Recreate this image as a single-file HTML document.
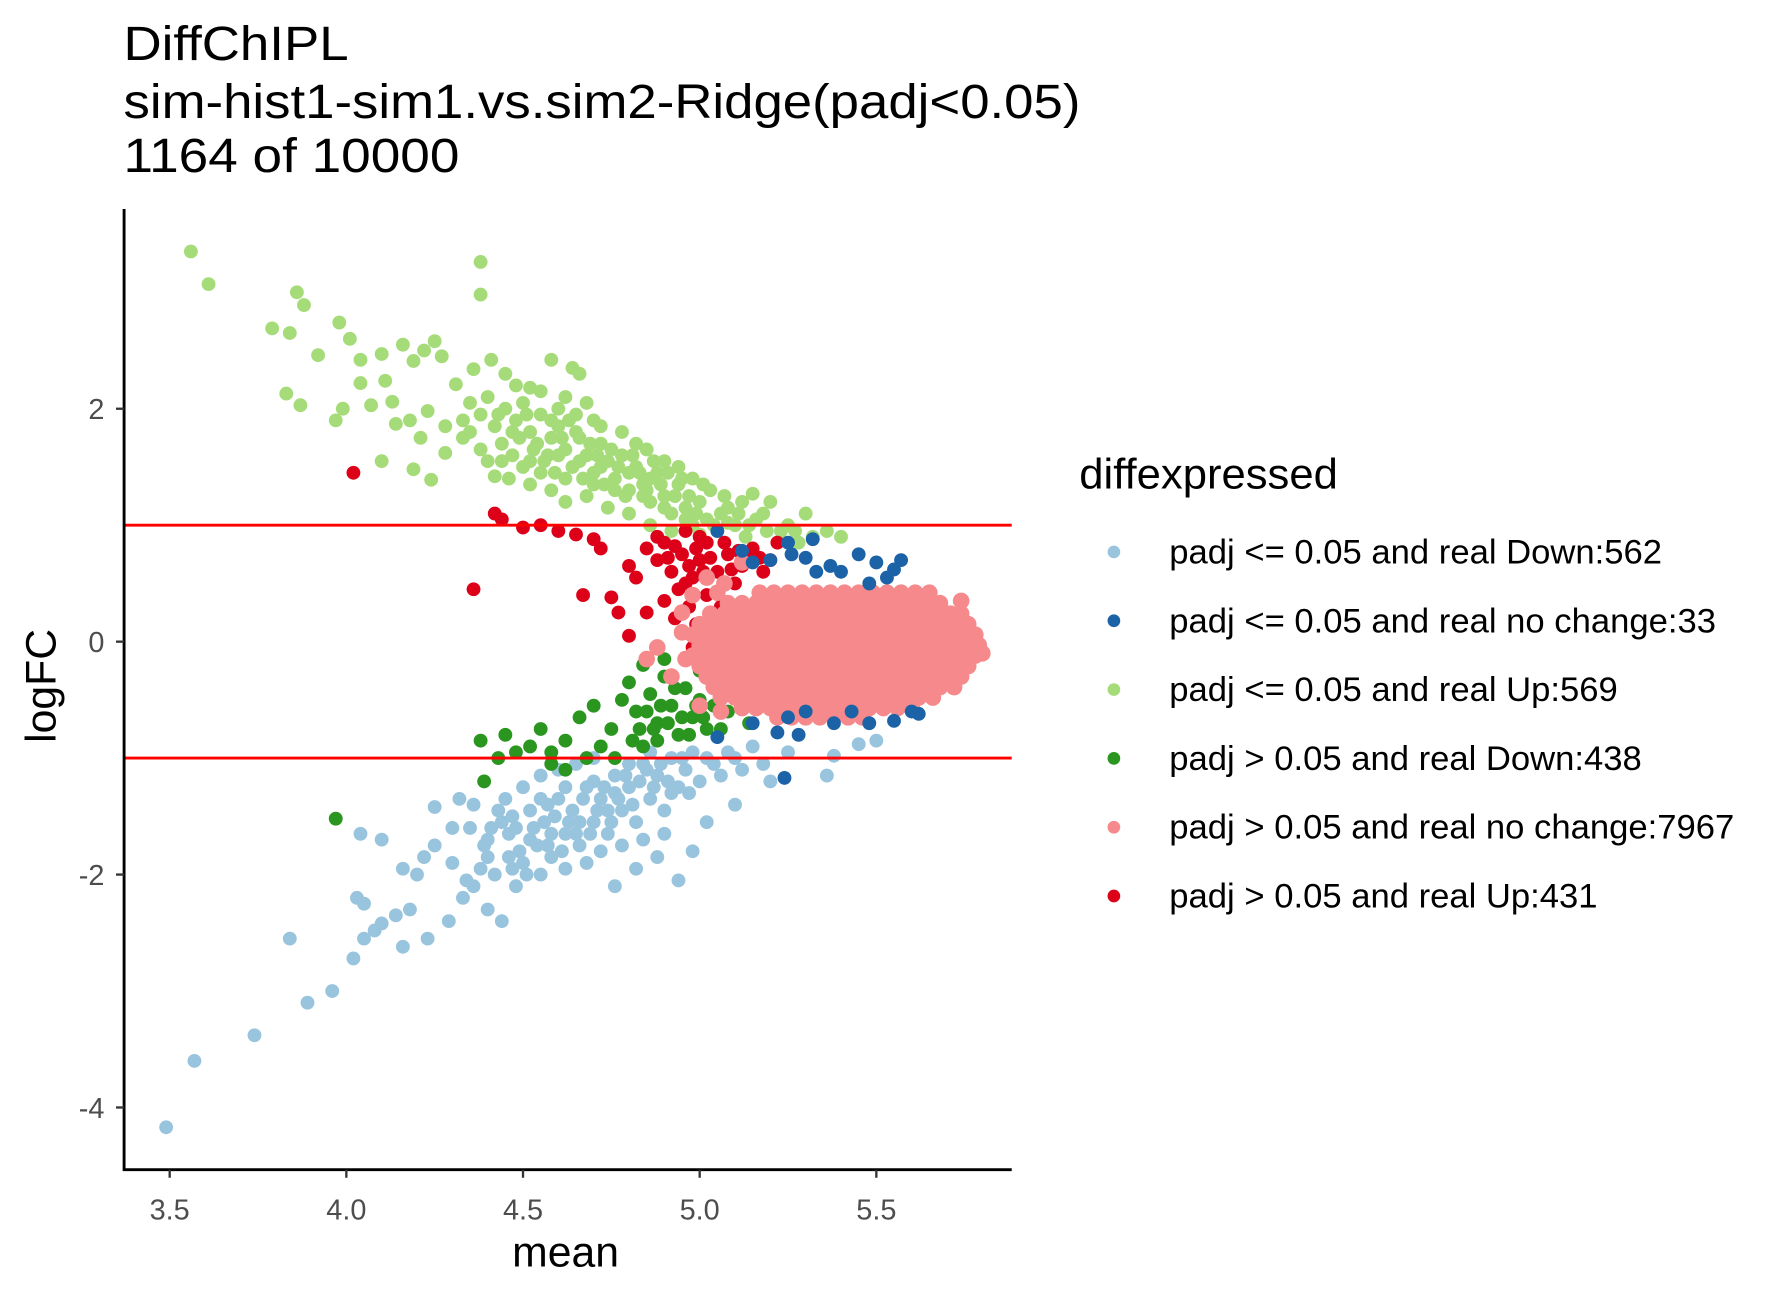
<!DOCTYPE html>
<html><head><meta charset="utf-8"><style>
html,body{margin:0;padding:0;background:#fff;}
svg{display:block;font-family:"Liberation Sans",Arial,sans-serif;}
</style></head><body>
<svg id="chart" width="1788" height="1299" viewBox="0 0 1549 1125" preserveAspectRatio="none" xmlns="http://www.w3.org/2000/svg">
<rect width="1549" height="1125" fill="#fff"/>
<g font-size="42" fill="#000">
<text x="107" y="52" textLength="195" lengthAdjust="spacingAndGlyphs">DiffChIPL</text>
<text x="107" y="102" textLength="829" lengthAdjust="spacingAndGlyphs">sim-hist1-sim1.vs.sim2-Ridge(padj&lt;0.05)</text>
<text x="107" y="149" textLength="291" lengthAdjust="spacingAndGlyphs">1164 of 10000</text>
</g>
<g id="points"></g>
<g id="axes"></g>
<g id="legend">
<text x="935" y="423" font-size="37" fill="#000" textLength="224" lengthAdjust="spacingAndGlyphs">diffexpressed</text>
</g>
</svg>
<script>
const xTicks = [3.5, 4.0, 4.5, 5.0, 5.5];
const xTickLabels = ["3.5", "4.0", "4.5", "5.0", "5.5"];
const yTicks = [2, 0, -2, -4];
const yTickLabels = ["2", "0", "-2", "-4"];
const hLines = [1, -1];
const categories = ["padj <= 0.05 and real Down:562","padj <= 0.05 and real no change:33","padj <= 0.05 and real Up:569","padj > 0.05 and real Down:438","padj > 0.05 and real no change:7967","padj > 0.05 and real Up:431"];
const colors = ["#99c4de","#1c62a7","#a5dc79","#2a951f","#f5898b","#dd0019"];

const lightBlue = [[3.49,-4.17],[3.57,-3.6],[3.74,-3.38],[3.89,-3.1],[3.96,-3.0],[3.84,-2.55],[4.02,-2.72],[4.05,-2.55],[4.03,-2.2],[4.05,-2.25],[4.08,-2.48],[4.1,-2.42],[4.14,-2.35],[4.18,-2.3],[4.16,-2.62],[4.23,-2.55],[4.2,-2.0],[4.22,-1.85],[4.04,-1.65],[4.1,-1.7],[4.16,-1.95],[4.25,-1.75],[4.25,-1.42],[4.29,-2.4],[4.33,-2.2],[4.36,-2.1],[4.4,-2.3],[4.44,-2.4],[4.3,-1.6],[4.32,-1.35],[4.36,-1.4],[4.94,-2.05],[4.82,-1.95],[4.76,-2.1],[4.88,-1.85],[4.98,-1.8],[5.02,-1.55],[5.1,-1.4],[5.2,-1.2],[5.18,-1.05],[5.25,-0.95],[5.36,-1.15],[5.38,-0.98],[5.45,-0.88],[5.5,-0.85],
[4.38,-1.95],[4.4,-1.7],[4.42,-2.0],[4.44,-1.55],[4.46,-1.85],[4.48,-1.6],[4.5,-1.9],[4.52,-1.45],[4.54,-1.75],[4.56,-1.55],[4.58,-1.85],[4.6,-1.35],[4.62,-1.65],[4.64,-1.45],[4.66,-1.75],[4.68,-1.25],[4.7,-1.55],[4.72,-1.35],[4.74,-1.65],[4.76,-1.15],[4.78,-1.45],[4.8,-1.25],[4.82,-1.55],[4.84,-1.05],[4.86,-1.35],[4.88,-1.15],[4.9,-1.45],[4.92,-1.0],[4.94,-1.25],[4.96,-1.1],[4.98,-0.95],[5.0,-1.2],[5.04,-1.05],[5.08,-0.95],[5.12,-1.1],[5.15,-0.9],[4.45,-1.35],[4.5,-1.25],[4.55,-1.15],[4.6,-1.1],[4.65,-1.05],[4.7,-1.0],[4.48,-2.1],[4.55,-2.0],[4.62,-1.95],[4.68,-1.9],[4.72,-1.8],[4.78,-1.75],[4.84,-1.7],[4.9,-1.65],[4.55,-1.35],[4.62,-1.25],[4.7,-1.2],[4.76,-1.3],[4.66,-1.55],[4.58,-1.65],[4.52,-1.7],[4.74,-1.45],[4.8,-1.05],[4.86,-0.95],[4.92,-1.3],[4.46,-1.65],[4.4,-1.85],[4.43,-1.45],[4.35,-1.6],[4.3,-1.9],[4.34,-2.05],
[4.41,-1.6],[4.47,-1.5],[4.49,-1.8],[4.53,-1.6],[4.57,-1.4],[4.59,-1.5],[4.61,-1.8],[4.63,-1.55],[4.67,-1.35],[4.69,-1.65],[4.71,-1.45],[4.73,-1.25],[4.75,-1.55],[4.77,-1.35],[4.79,-1.15],[4.81,-1.4],[4.83,-1.2],[4.85,-1.1],[4.87,-1.25],[4.89,-1.05],[4.91,-1.2],[4.95,-1.0],[4.97,-1.3],[5.02,-1.0],[5.06,-1.15],[5.1,-1.0],[4.51,-2.0],[4.57,-1.75],[4.65,-1.65],[4.39,-1.75],[4.47,-1.95]];

const lightGreen = [[3.56,3.35],[3.61,3.07],[3.86,3.0],[3.88,2.89],[3.79,2.69],[3.84,2.65],[3.98,2.74],[4.01,2.6],[4.38,3.26],[4.38,2.98],[3.83,2.13],[3.87,2.03],[3.92,2.46],[3.97,1.9],[3.99,2.0],[4.04,2.22],[4.07,2.03],[4.04,2.42],[4.11,2.24],[4.13,2.06],[4.1,2.47],[4.16,2.55],[4.19,2.41],[4.22,2.5],[4.25,2.58],[4.14,1.87],[4.18,1.9],[4.21,1.75],[4.23,1.98],[4.27,2.45],[4.31,2.21],[4.36,2.34],[4.41,2.42],[4.45,2.3],[4.52,2.18],[4.58,2.42],[4.64,2.35],[4.66,2.3],[4.1,1.55],[4.19,1.48],[4.24,1.39],[4.28,1.62],[4.33,1.75],[4.28,1.85],
[4.35,2.05],[4.38,1.95],[4.4,2.1],[4.42,1.85],[4.45,2.0],[4.48,1.9],[4.5,2.05],[4.52,1.8],[4.55,1.95],[4.58,1.75],[4.44,1.7],[4.47,1.6],[4.4,1.55],[4.5,1.5],[4.53,1.65],[4.56,1.55],[4.6,1.85],[4.62,1.65],[4.64,1.5],[4.66,1.75],[4.68,1.6],[4.7,1.45],[4.72,1.7],[4.74,1.55],[4.76,1.4],[4.78,1.6],[4.8,1.3],[4.82,1.5],[4.84,1.35],[4.86,1.2],[4.88,1.45],[4.9,1.25],[4.92,1.1],[4.94,1.35],[4.96,1.15],[4.98,1.0],[5.0,1.2],[5.02,1.05],[5.05,0.95],[5.08,1.15],[5.1,1.0],[5.13,0.9],[5.16,1.05],[5.19,0.95],[5.22,0.85],[5.25,1.0],[5.28,0.85],[5.32,0.9],[5.36,0.95],[5.4,0.9],[4.46,1.4],[4.52,1.35],[4.58,1.3],[4.62,1.2],[4.68,1.25],[4.74,1.15],[4.8,1.1],[4.86,1.0],[4.92,0.95],[4.6,2.0],[4.65,1.95],[4.7,1.9],[4.72,1.85],[4.78,1.8],[4.82,1.7],[4.85,1.65],[4.9,1.55],[4.94,1.5],[4.98,1.4],[5.03,1.3],[5.07,1.25],[5.12,1.2],[5.15,1.27],[5.2,1.2],[4.55,1.45],[4.62,1.4],[4.7,1.35],[4.76,1.3],[4.84,1.25],[4.9,1.15],[4.96,1.05],[5.04,1.0],[4.6,1.6],[4.66,1.55],[4.72,1.5],[4.8,1.45],[4.86,1.4],[4.42,1.42],[4.38,1.65],[4.35,1.8],[4.33,1.9],[4.48,2.2],[4.55,2.15],[4.62,2.1],[4.68,2.05],[4.58,1.9],[4.65,1.8],[4.52,1.55],[4.44,1.55],[4.49,1.75],[5.3,1.1],[5.27,0.95],[5.08,1.02],[5.0,0.92],
[4.43,1.95],[4.47,1.8],[4.51,1.95],[4.54,1.7],[4.57,1.6],[4.59,1.45],[4.61,1.75],[4.63,1.9],[4.67,1.4],[4.69,1.7],[4.71,1.6],[4.73,1.35],[4.75,1.65],[4.77,1.5],[4.79,1.25],[4.81,1.6],[4.83,1.45],[4.85,1.3],[4.87,1.55],[4.89,1.35],[4.91,1.45],[4.93,1.25],[4.95,1.4],[4.97,1.25],[4.99,1.1],[5.01,1.35],[5.06,1.1],[5.11,1.1],[5.14,1.0],[5.18,1.1],[5.23,0.95]];

const darkGreen = [[3.97,-1.52],[4.38,-0.85],[4.39,-1.2],[4.43,-1.0],[4.45,-0.8],[4.48,-0.95],[4.52,-0.9],[4.55,-0.75],[4.58,-0.95],[4.62,-0.85],[4.66,-0.65],[4.7,-0.55],[4.72,-0.9],[4.68,-1.0],[4.75,-0.75],[4.78,-0.5],[4.8,-0.35],[4.82,-0.6],[4.84,-0.2],[4.86,-0.45],[4.88,-0.7],[4.9,-0.3],[4.92,-0.55],[4.94,-0.8],[4.96,-0.4],[4.98,-0.65],[5.0,-0.5],[5.02,-0.75],[5.05,-0.35],[5.08,-0.6],[5.1,-0.45],[5.14,-0.7],[5.18,-0.55],[4.88,-0.85],[4.84,-0.9],[4.76,-1.0],[4.62,-1.1],[4.58,-1.05],[4.9,-0.15],[5.0,-0.25],
[4.85,-0.6],[4.87,-0.75],[4.89,-0.55],[4.91,-0.7],[4.93,-0.4],[4.95,-0.65],[4.97,-0.8],[4.99,-0.55],[5.01,-0.65],[5.04,-0.55],[5.06,-0.75],[4.83,-0.75],[4.81,-0.85]];

const redUp = [[4.02,1.45],[4.36,0.45],[4.42,1.1],[4.44,1.05],[4.5,0.98],[4.55,1.0],[4.6,0.95],[4.65,0.92],[4.7,0.88],[4.72,0.8],[4.67,0.4],[4.75,0.38],[4.8,0.65],[4.77,0.25],[4.85,0.25],[4.8,0.05],[4.82,0.55],[4.85,0.8],[4.88,0.7],[4.9,0.85],[4.92,0.6],[4.94,0.45],[4.95,0.75],[4.98,0.55],[5.0,0.7],[5.02,0.85],[5.05,0.6],[5.08,0.75],[5.1,0.5],[5.12,0.65],[5.15,0.8],[5.18,0.6],[5.2,0.7],[4.97,0.3],[4.99,0.15],[5.02,0.4],[4.98,-0.05],[5.03,-0.3],[5.06,0.3],[4.9,0.35],[4.93,0.2],[5.22,0.85],[5.0,0.9],[4.96,0.95],[4.88,0.9],
[4.91,0.72],[4.93,0.82],[4.97,0.65],[4.99,0.8],[5.01,0.6],[5.03,0.72],[5.07,0.85],[5.09,0.62],[5.11,0.78],[5.14,0.7],[5.17,0.72],[4.96,0.5]];

const pinkRowY = [0.42,0.33,0.24,0.15,0.06,-0.03,-0.12,-0.21,-0.30,-0.39,-0.48,-0.57,-0.65];
const pinkRowX = [
[5.17,5.21,5.25,5.29,5.33,5.37,5.41,5.45,5.49,5.53,5.57,5.61,5.65],
[5.08,5.12,5.16,5.20,5.24,5.28,5.32,5.36,5.40,5.44,5.48,5.52,5.56,5.60,5.64,5.68],
[5.03,5.07,5.11,5.15,5.19,5.23,5.27,5.31,5.35,5.39,5.43,5.47,5.51,5.55,5.59,5.63,5.67,5.71,5.74],
[5.00,5.04,5.08,5.12,5.16,5.20,5.24,5.28,5.32,5.36,5.40,5.44,5.48,5.52,5.56,5.60,5.64,5.68,5.72,5.76],
[4.98,5.02,5.06,5.10,5.14,5.18,5.22,5.26,5.30,5.34,5.38,5.42,5.46,5.50,5.54,5.58,5.62,5.66,5.70,5.74,5.78],
[5.00,5.04,5.08,5.12,5.16,5.20,5.24,5.28,5.32,5.36,5.40,5.44,5.48,5.52,5.56,5.60,5.64,5.68,5.72,5.76,5.79],
[4.98,5.02,5.06,5.10,5.14,5.18,5.22,5.26,5.30,5.34,5.38,5.42,5.46,5.50,5.54,5.58,5.62,5.66,5.70,5.74,5.78],
[5.00,5.04,5.08,5.12,5.16,5.20,5.24,5.28,5.32,5.36,5.40,5.44,5.48,5.52,5.56,5.60,5.64,5.68,5.72,5.76],
[5.02,5.06,5.10,5.14,5.18,5.22,5.26,5.30,5.34,5.38,5.42,5.46,5.50,5.54,5.58,5.62,5.66,5.70,5.74],
[5.04,5.08,5.12,5.16,5.20,5.24,5.28,5.32,5.36,5.40,5.44,5.48,5.52,5.56,5.60,5.64,5.68,5.72],
[5.06,5.10,5.14,5.18,5.22,5.26,5.30,5.34,5.38,5.42,5.46,5.50,5.54,5.58,5.62,5.66],
[5.12,5.16,5.20,5.24,5.28,5.32,5.36,5.40,5.44,5.48,5.52,5.56,5.60],
[5.22,5.26,5.30,5.34,5.38,5.42,5.46]];
const pinkExtra = [[4.88,-0.05],[4.92,-0.3],[4.95,0.25],[4.98,0.4],[5.02,0.55],[4.85,-0.15],[5.0,-0.55],[5.06,-0.6],[5.8,-0.1],[5.75,0.1],[5.74,0.35],[5.12,0.68],[5.07,0.5],[5.05,0.42],[4.95,0.08],[4.96,-0.15]];

const darkBlue = [[5.05,0.95],[5.12,0.78],[5.15,0.68],[5.2,0.7],[5.26,0.75],[5.3,0.72],[5.33,0.6],[5.37,0.65],[5.4,0.6],[5.45,0.75],[5.5,0.68],[5.55,0.62],[5.57,0.7],[5.53,0.55],[5.48,0.5],[5.25,0.85],[5.32,0.88],[5.22,-0.78],[5.15,-0.7],[5.25,-0.65],[5.28,-0.8],[5.3,-0.6],[5.38,-0.7],[5.48,-0.7],[5.55,-0.68],[5.6,-0.6],[5.62,-0.62],[5.24,-1.17],[5.05,-0.82],[5.43,-0.6]];

const NS = "http://www.w3.org/2000/svg";
const X0 = 107.5, X1 = 876.5, Y0 = 181, Y1 = 1013;
function sx(v){ return 147 + (v - 3.5) * 306.1; }
function sy(v){ return 555.7 - v * 100.86; }
function mk(tag, attrs, parent){ const e = document.createElementNS(NS, tag); for (const k in attrs) e.setAttribute(k, attrs[k]); parent.appendChild(e); return e; }

const pts = document.getElementById('points');
function drawSeries(arr, color, name, r){
  const g = mk('g', {fill: color}, pts);
  
  
  arr.forEach(p => {
    const c = mk('circle', {cx: sx(p[0]), cy: sy(p[1]), r: r}, g);
    
    
  });
}
drawSeries(lightBlue, colors[0], 'series-sig-down', 6);
drawSeries(lightGreen, colors[2], 'series-sig-up', 6);
drawSeries(darkGreen, colors[3], 'series-nonsig-down', 6);
drawSeries(redUp, colors[5], 'series-nonsig-up', 6);
const pinkPts = [];
pinkRowY.forEach((y, i) => pinkRowX[i].forEach(x => pinkPts.push([x, y])));
pinkExtra.forEach(p => pinkPts.push(p));
drawSeries(pinkPts, colors[4], 'series-nonsig-nochange', 7.2);
drawSeries(darkBlue, colors[1], 'series-sig-nochange', 6);

const ax = document.getElementById('axes');
hLines.forEach(v => {
  const l = mk('line', {x1: X0, x2: X1, y1: sy(v), y2: sy(v), stroke: '#ff0000', 'stroke-width': 2.5}, ax);
  
  
});
const yl = mk('line', {x1: X0, x2: X0, y1: Y0, y2: Y1 + 1, stroke: '#000', 'stroke-width': 2.5}, ax);


const xl = mk('line', {x1: X0 - 1, x2: X1, y1: Y1, y2: Y1, stroke: '#000', 'stroke-width': 2.5}, ax);


xTicks.forEach((v, i) => {
  mk('line', {x1: sx(v), x2: sx(v), y1: Y1, y2: Y1 + 7, stroke: '#333', 'stroke-width': 2}, ax);
  const t = mk('text', {x: sx(v), y: Y1 + 43, 'text-anchor': 'middle', 'font-size': 25, fill: '#4d4d4d'}, ax);
  t.textContent = xTickLabels[i];
  
  
});
yTicks.forEach((v, i) => {
  mk('line', {x1: X0 - 7, x2: X0, y1: sy(v), y2: sy(v), stroke: '#333', 'stroke-width': 2}, ax);
  const t = mk('text', {x: X0 - 17, y: sy(v) + 9, 'text-anchor': 'end', 'font-size': 25, fill: '#4d4d4d'}, ax);
  t.textContent = yTickLabels[i];
  
  
});
const xt = mk('text', {x: 490, y: 1097, 'text-anchor': 'middle', 'font-size': 37, fill: '#000'}, ax);
xt.textContent = 'mean';


const yt = mk('text', {x: 0, y: 0, 'text-anchor': 'middle', 'font-size': 37, fill: '#000', transform: 'translate(48,594) rotate(-90)'}, ax);
yt.textContent = 'logFC';



const lg = document.getElementById('legend');
categories.forEach((c, i) => {
  const y = 478 + i * 59.6;
  const d = mk('circle', {cx: 965, cy: y, r: 5.5, fill: colors[i]}, lg);
  
  
  const t = mk('text', {x: 1013, y: y + 10, 'font-size': 30, fill: '#000'}, lg);
  t.textContent = c;
  
  
});
</script>
</body></html>
